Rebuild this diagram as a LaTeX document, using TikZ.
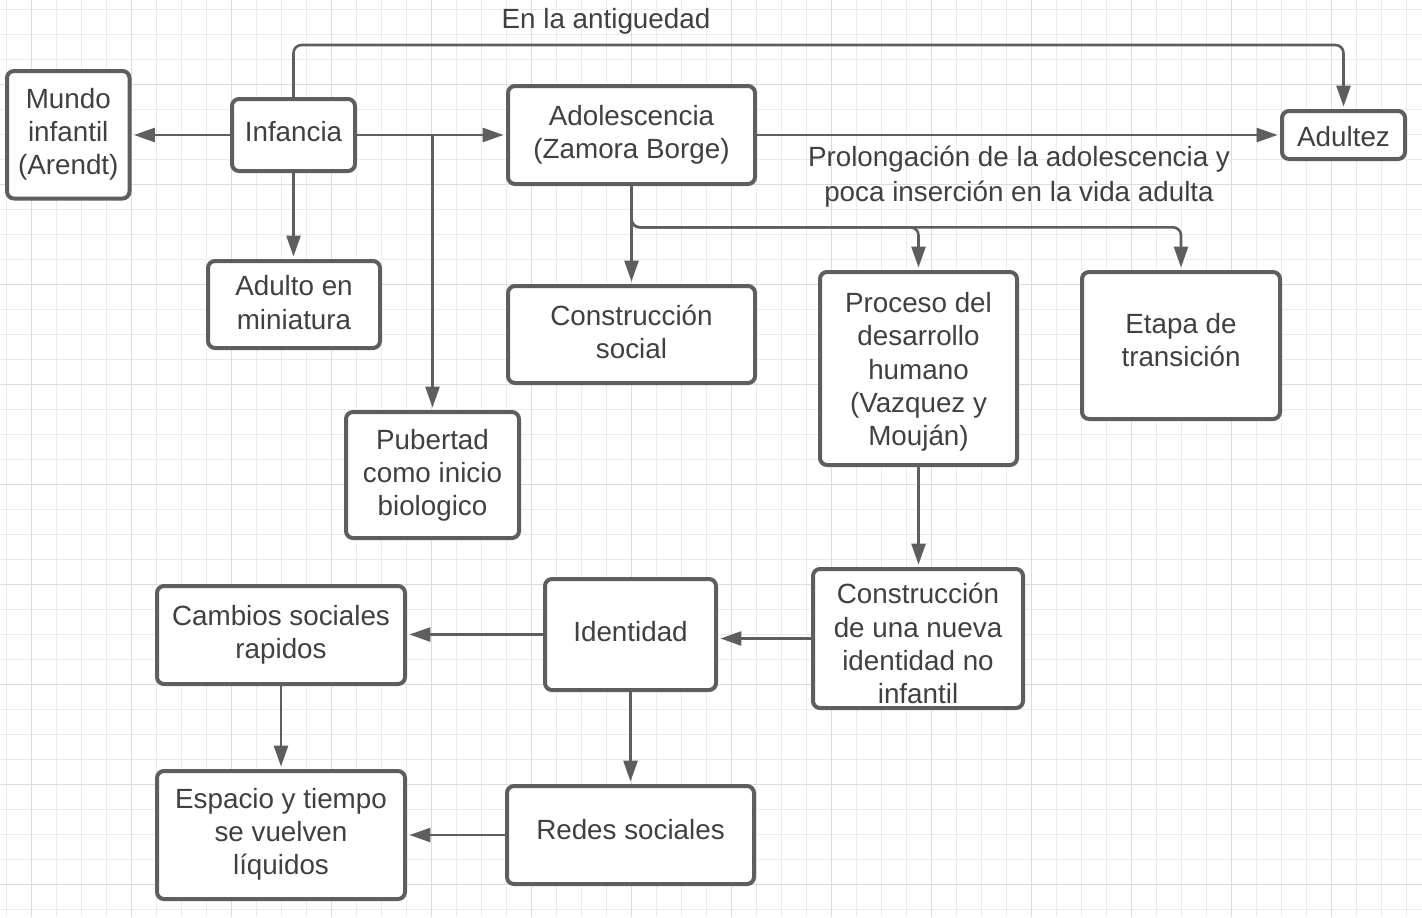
\documentclass[tikz,border=0pt]{standalone}
\usepackage{fontspec}
\setmainfont{Liberation Sans}
\usetikzlibrary{arrows.meta}
\definecolor{ln}{HTML}{5E5E5E}
\definecolor{tx}{HTML}{404040}
\definecolor{gmin}{HTML}{EBEBEB}
\definecolor{gmaj}{HTML}{DCDCDC}
\newcommand{\ml}[2][0pt]{\raisebox{#1}[\height][\depth]{\begin{tabular}{@{}c@{}}#2\end{tabular}}}
\tikzset{
  box/.style={draw=ln, line width=2pt, rounded corners=3.5pt, fill=white,
    inner sep=0pt, outer sep=0pt, text=tx,
    font=\fontsize{13.9pt}{16.6pt}\selectfont},
  lbl/.style={inner sep=0pt, outer sep=0pt, text=tx,
    font=\fontsize{13.9pt}{16.6pt}\selectfont},
  arr/.style={draw=ln, line width=1.3pt, -{Triangle[length=10.5pt,width=7pt]},
    shorten >=2.2pt},
  gridminor/.style={draw=gmin, line width=0.5pt},
  gridmajor/.style={draw=gmaj, line width=0.5pt}
}
\begin{document}
\begin{tikzpicture}[x=0.5pt,y=-0.5pt]
\fill[white] (0,0) rectangle (1422,917);
\useasboundingbox (0,0) rectangle (1422,917);
% grid
\foreach \i in {0,...,56} \draw[gridminor] ({6.7+25*\i},0) -- ({6.7+25*\i},917);
\foreach \j in {0,...,36} \draw[gridminor] (0,{9.3+25*\j}) -- (1422,{9.3+25*\j});
\foreach \i in {0,...,13} \draw[gridmajor] ({31.7+100*\i},0) -- ({31.7+100*\i},917);
\foreach \j in {0,...,8} \draw[gridmajor] (0,{84.3+100*\j}) -- (1422,{84.3+100*\j});

% boxes
\node[box, minimum width=61.25pt, minimum height=63.75pt] (mundo) at (68.25,134.75) {\ml{Mundo\\infantil\\(Arendt)}};
\node[box, minimum width=61.5pt, minimum height=36pt] (infancia) at (293.5,135) {\ml{Infancia}};
\node[box, minimum width=123.5pt, minimum height=49pt] (adol) at (631.5,135) {\ml{Adolescencia\\(Zamora Borge)}};
\node[box, minimum width=61.5pt, minimum height=24pt] (adultez) at (1343.5,135) {\ml[-2.5pt]{Adultez}};
\node[box, minimum width=86pt, minimum height=43.5pt] (adulto) at (294,304.5) {\ml[-0.7pt]{Adulto en\\miniatura}};
\node[box, minimum width=86.5pt, minimum height=63pt] (pubertad) at (432.5,475) {\ml[-0.5pt]{Pubertad\\como inicio\\biologico}};
\node[box, minimum width=123.5pt, minimum height=48.5pt] (consoc) at (631.5,334.5) {\ml[-0.5pt]{Construcción\\social}};
\node[box, minimum width=98.5pt, minimum height=96.5pt] (proceso) at (918.5,368.5) {\ml[-2pt]{Proceso del\\desarrollo\\humano\\(Vazquez y\\Mouján)}};
\node[box, minimum width=99pt, minimum height=73.5pt] (etapa) at (1181,345.5) {\ml[1pt]{Etapa de\\transición}};
\node[box, minimum width=105pt, minimum height=69.5pt] (connueva) at (918,638.5) {\ml[-4.25pt]{Construcción\\de una nueva\\identidad no\\infantil}};
\node[box, minimum width=85.5pt, minimum height=55.5pt] (identidad) at (630.5,634.5) {\ml{Identidad}};
\node[box, minimum width=124pt, minimum height=49pt] (cambios) at (281,635) {\ml{Cambios sociales\\rapidos}};
\node[box, minimum width=124pt, minimum height=64pt] (espacio) at (281,835) {\ml{Espacio y tiempo\\se vuelven\\líquidos}};
\node[box, minimum width=123.5pt, minimum height=49pt] (redes) at (630.5,835) {\ml[1pt]{Redes sociales}};

% labels
\node[lbl] (antig) at (606,21.4) {\ml{En la antiguedad}};
\node[lbl, font=\fontsize{13.9pt}{17.15pt}\selectfont] (prolong) at (1019,177.2) {\ml{Prolongación de la adolescencia y\\poca inserción en la vida adulta}};

% connectors
\coordinate (ytop) at (0,45);
\coordinate (ymid) at (0,227.3);
\draw[arr] (infancia.west) -- (mundo.east |- infancia.west);
\draw[arr] (infancia.east) -- (adol.west);
\draw[arr] (infancia.east) -| (pubertad.north);
\draw[arr] (infancia.south) -- (infancia.south |- adulto.north);
\draw[arr, rounded corners=4pt] (infancia.north) -- (infancia.north |- ytop) -| (adultez.north);
\draw[arr] (adol.east) -- (adultez.west);
\draw[arr] (adol.south) -- (consoc.north);
\draw[arr, rounded corners=4pt] (adol.south) |- (ymid -| proceso.north) -- (proceso.north);
\draw[arr, rounded corners=4pt] (adol.south) |- (ymid -| etapa.north) -- (etapa.north);
\draw[arr] (proceso.south) -- (proceso.south |- connueva.north);
\draw[arr] (connueva.west) -- (connueva.west -| identidad.east);
\draw[arr] (identidad.west) -- (identidad.west -| cambios.east);
\draw[arr] (identidad.south) -- (redes.north);
\draw[arr] (cambios.south) -- (espacio.north);
\draw[arr] (redes.west) -- (espacio.east);
\end{tikzpicture}
\end{document}
